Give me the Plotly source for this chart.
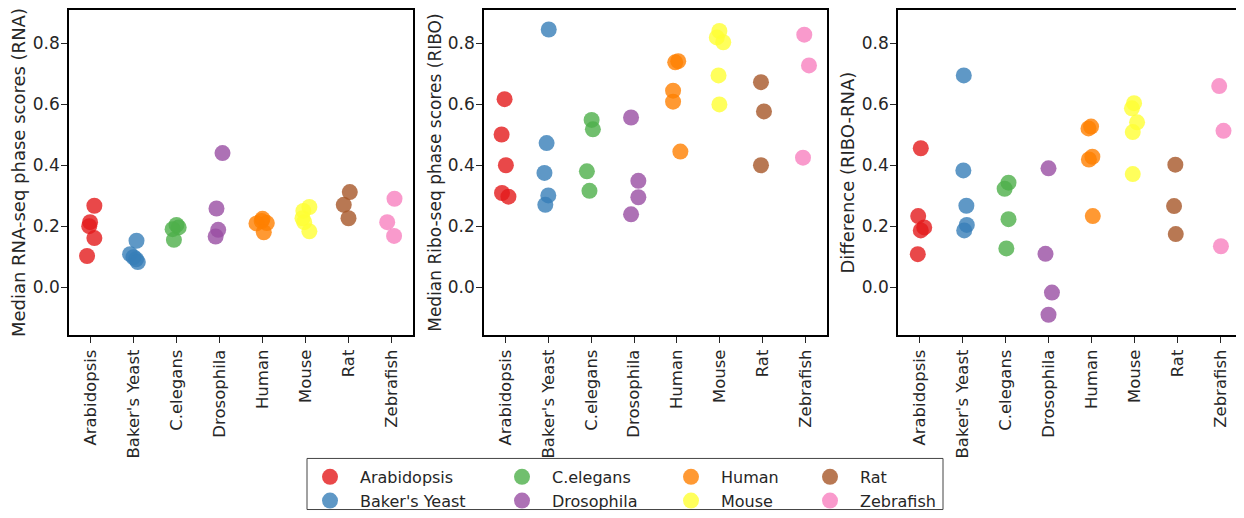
import plotly.graph_objects as go

species = ["Arabidopsis", "Baker's Yeast", "C.elegans", "Drosophila",
           "Human", "Mouse", "Rat", "Zebrafish"]
colors = ["#e41a1c", "#377eb8", "#4daf4a", "#984ea3",
          "#ff7f00", "#ffff33", "#a65628", "#f781bf"]

# Panel 1: median RNA-seq phase scores (per dataset), and strip jitter
rna_scores = [
    [0.267, 0.213, 0.200, 0.161, 0.102],
    [0.152, 0.108, 0.098, 0.091, 0.082],
    [0.204, 0.196, 0.190, 0.155],
    [0.440, 0.258, 0.188, 0.166],
    [0.224, 0.217, 0.210, 0.209, 0.180],
    [0.263, 0.250, 0.226, 0.213, 0.183],
    [0.312, 0.270, 0.226],
    [0.290, 0.213, 0.168],
]
rna_jitter = [
    [0.09, -0.01, -0.03, 0.09, -0.08],
    [0.07, -0.08, 0.00, 0.06, 0.10],
    [0.00, 0.05, -0.09, -0.06],
    [0.07, -0.07, -0.03, -0.09],
    [0.00, -0.02, 0.10, -0.14, 0.03],
    [0.09, -0.05, -0.07, -0.03, 0.09],
    [0.03, -0.11, 0.00],
    [0.07, -0.10, 0.06],
]

# Panel 2: median Ribo-seq phase scores
ribo_scores = [
    [0.617, 0.501, 0.400, 0.309, 0.297],
    [0.846, 0.473, 0.375, 0.301, 0.270],
    [0.549, 0.518, 0.380, 0.316],
    [0.557, 0.349, 0.295, 0.239],
    [0.742, 0.738, 0.645, 0.609, 0.445],
    [0.841, 0.820, 0.804, 0.695, 0.600],
    [0.673, 0.577, 0.400],
    [0.829, 0.728, 0.425],
]
ribo_jitter = [
    [-0.02, -0.09, 0.01, -0.08, 0.07],
    [0.01, -0.04, -0.09, 0.00, -0.07],
    [0.01, 0.04, -0.10, -0.04],
    [-0.07, 0.10, 0.10, -0.07],
    [0.03, -0.04, -0.09, -0.09, 0.08],
    [-0.01, -0.07, 0.08, -0.03, -0.01],
    [-0.04, 0.03, -0.04],
    [-0.03, 0.08, -0.06],
]

# Panel 3: difference (RIBO-RNA)
diff_scores = [
    [0.456, 0.233, 0.196, 0.186, 0.108],
    [0.695, 0.383, 0.267, 0.204, 0.186],
    [0.343, 0.323, 0.223, 0.127],
    [0.390, 0.109, -0.018, -0.091],
    [0.527, 0.521, 0.428, 0.419, 0.233],
    [0.604, 0.587, 0.541, 0.509, 0.371],
    [0.402, 0.266, 0.174],
    [0.660, 0.513, 0.134],
]
diff_jitter = [
    [0.03, -0.03, 0.11, 0.03, -0.04],
    [0.03, 0.02, 0.09, 0.10, 0.04],
    [0.07, -0.02, 0.07, 0.02],
    [0.00, -0.07, 0.08, 0.00],
    [-0.01, -0.07, 0.02, -0.06, 0.03],
    [-0.01, -0.06, 0.06, -0.04, -0.04],
    [-0.05, -0.08, -0.04],
    [-0.03, 0.07, 0.01],
]

y_titles = ["Median RNA-seq phase scores (RNA)",
            "Median Ribo-seq phase scores (RIBO)",
            "Difference (RIBO-RNA)"]
y_title_sizes = [18, 17, 18]
y_ticks = [0.0, 0.2, 0.4, 0.6, 0.8]

panels = [(rna_scores, rna_jitter), (ribo_scores, ribo_jitter), (diff_scores, diff_jitter)]

# page body has an 8px margin; the figure is sized to fill the rest of the window
OFF = 8
W, H = 1244 - OFF, 518 - OFF
FONT = "DejaVu Sans"
TXT = "#262626"


def px_x(v):
    return (v - OFF) / W


def px_y(v):
    return (H - (v - OFF)) / H


fig = go.Figure()

legend_names = ["legend", "legend2", "legend3", "legend4"]

for p, (scores, jit) in enumerate(panels):
    ax = "" if p == 0 else str(p + 1)
    for i, name in enumerate(species):
        xs = [i + j for j in jit[i]]
        fig.add_trace(go.Scatter(
            x=xs, y=scores[i], mode="markers", name=name,
            xaxis="x" + ax, yaxis="y" + ax,
            marker=dict(color=colors[i], size=16, opacity=0.8, line=dict(width=0)),
            legendgroup=name, showlegend=(p == 0),
            legend=legend_names[i // 2],
            hoverinfo="x+y",
        ))

# reference-pixel geometry of the three plot areas
x_px = [(69, 413), (484, 827), (898, 1242)]
y_top, y_bot = 8, 339
ydom = [px_y(y_bot), px_y(y_top)]

layout = dict(
    width=W, height=H,
    margin=dict(l=0, r=0, t=0, b=0),
    paper_bgcolor="white", plot_bgcolor="white",
    font=dict(family=FONT, size=16, color=TXT),
    showlegend=True,
)

for p in range(3):
    ax = "" if p == 0 else str(p + 1)
    x0, x1 = x_px[p]
    layout["xaxis" + ax] = dict(
        domain=[px_x(x0), px_x(x1)], anchor="y" + ax,
        range=[-0.5, 7.5], tickvals=list(range(len(species))), ticktext=species,
        tickangle=-90, ticks="outside", ticklen=6, tickwidth=1.3, tickcolor=TXT,
        showline=True, linecolor="black", linewidth=1.6, mirror=True,
        showgrid=False, zeroline=False, tickfont=dict(size=16.5, color=TXT),
    )
    layout["yaxis" + ax] = dict(
        domain=ydom, anchor="x" + ax,
        range=[-0.158, 0.91], tickvals=y_ticks, ticktext=["%.1f" % v for v in y_ticks],
        ticks="outside", ticklen=6, tickwidth=1.3, tickcolor=TXT,
        ticklabelstandoff=-2,
        showline=True, linecolor="black", linewidth=1.6, mirror=True,
        showgrid=False, zeroline=False, tickfont=dict(size=17, color=TXT),
        title=dict(text=y_titles[p], font=dict(size=y_title_sizes[p], color=TXT), standoff=2),
    )

legend_text_x = [360, 552, 721, 860]
for k, ln in enumerate(legend_names):
    layout[ln] = dict(
        x=px_x(legend_text_x[k] - 60), xanchor="left",
        y=px_y(466), yanchor="top",
        orientation="v", bgcolor="rgba(0,0,0,0)", borderwidth=0,
        itemwidth=50, font=dict(size=16, color=TXT, family=FONT),
        tracegroupgap=0,
    )

layout["shapes"] = [dict(
    type="rect", xref="paper", yref="paper",
    x0=px_x(307), x1=px_x(943), y0=px_y(516.5), y1=px_y(464.5),
    line=dict(color="#444444", width=1), fillcolor="rgba(0,0,0,0)", layer="below",
)]

fig.update_layout(**layout)
fig.write_html("out.html")
